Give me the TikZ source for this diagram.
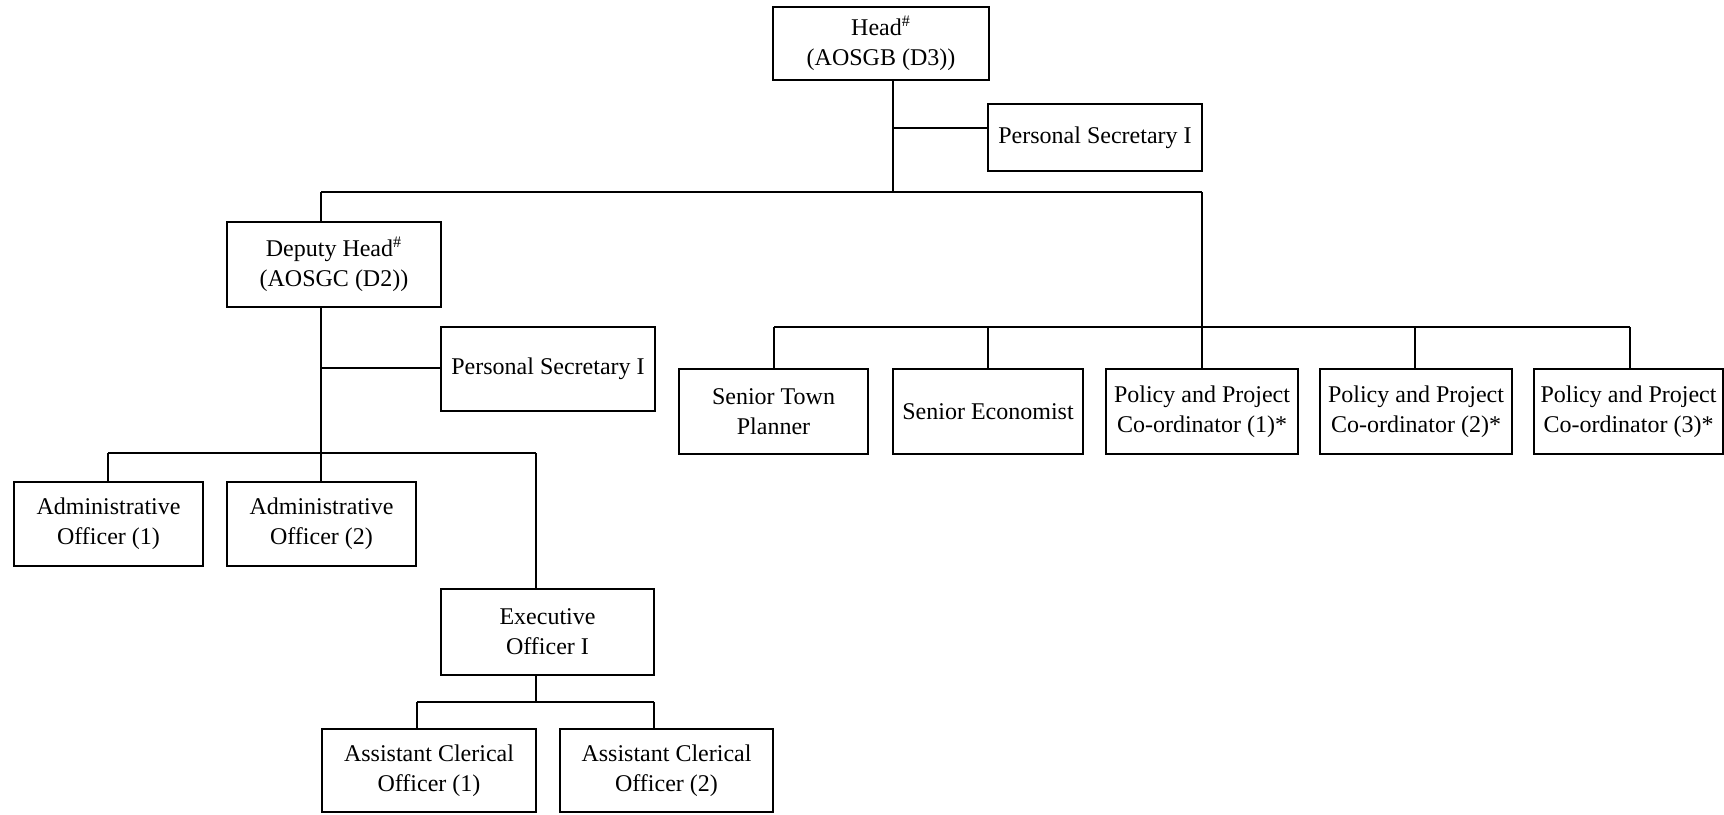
\documentclass[tikz,border=0pt]{standalone}
\usepackage{fontspec}
\setmainfont{Liberation Serif}
\newfontfamily\orgserif{Liberation Serif}
\begin{document}
\begin{tikzpicture}[x={(0.5pt,0)},y={(0,-0.5pt)},
  box/.style={draw, line width=1pt, align=center, inner sep=0pt, font=\orgserif\fontsize{12}{15}\selectfont},
  link/.style={line width=1pt}]
\useasboundingbox (0,0) rectangle (1724,814);
% boxes
\node[box, minimum width=108pt, minimum height=36.5pt] (head) at (881,43.5) {Head\textsuperscript{\#}\\(AOSGB (D3))};
\node[box, minimum width=107pt, minimum height=33.5pt] (ps1) at (1095,137.5) {Personal Secretary I};
\node[box, minimum width=107pt, minimum height=42.5pt] (dep) at (334,264.5) {Deputy Head\textsuperscript{\#}\\(AOSGC (D2))};
\node[box, minimum width=107pt, minimum height=42pt] (ps2) at (548,369) {Personal Secretary I};
\node[box, minimum width=94.5pt, minimum height=42pt] (adm1) at (108.5,524) {Administrative\\Officer (1)};
\node[box, minimum width=94.5pt, minimum height=42pt] (adm2) at (321.5,524) {Administrative\\Officer (2)};
\node[box, minimum width=106.5pt, minimum height=43pt] (exec) at (547.5,632) {Executive\\Officer I};
\node[box, minimum width=107pt, minimum height=41.5pt] (aco1) at (429,770.5) {Assistant Clerical\\Officer (1)};
\node[box, minimum width=106.5pt, minimum height=41.5pt] (aco2) at (666.5,770.5) {Assistant Clerical\\Officer (2)};
\node[box, minimum width=94.5pt, minimum height=42.5pt] (stp) at (773.5,411.5) {Senior Town\\Planner};
\node[box, minimum width=95pt, minimum height=42.5pt] (se) at (988,411.5) {Senior Economist};
\node[box, minimum width=96pt, minimum height=42.5pt] (ppc1) at (1202,411.5) {Policy and Project\\Co-ordinator (1)*};
\node[box, minimum width=96pt, minimum height=42.5pt] (ppc2) at (1416,411.5) {Policy and Project\\Co-ordinator (2)*};
\node[box, minimum width=94.5pt, minimum height=42.5pt] (ppc3) at (1628.5,411.5) {Policy and Project\\Co-ordinator (3)*};
% junction coordinates
\coordinate (hj) at (893,128);
\coordinate (hb) at (893,192);
\coordinate (bl) at (321,192);
\coordinate (br) at (1202,192);
\coordinate (dj) at (321,368);
\coordinate (dbl) at (108,453);
\coordinate (dbm) at (321,453);
\coordinate (dbr) at (536,453);
\coordinate (eb) at (536,702);
\coordinate (ebl) at (417,702);
\coordinate (ebr) at (654,702);
\coordinate (pbl) at (774,327);
\coordinate (pbr) at (1630,327);
\coordinate (p4) at (1415,327);
% connectors
\draw[link] (head.south -| hb) -- (hb);
\draw[link] (hj) -- (hj -| ps1.west);
\draw[link] (bl) -- (br);
\draw[link] (bl) -- (bl |- dep.north);
\draw[link] (br) -- (br |- ppc1.north);
\draw[link] (dep.south -| dbm) -- (dbm |- adm2.north);
\draw[link] (dj) -- (dj -| ps2.west);
\draw[link] (dbl) -- (dbr);
\draw[link] (dbl) -- (dbl |- adm1.north);
\draw[link] (dbr) -- (dbr |- exec.north);
\draw[link] (exec.south -| eb) -- (eb);
\draw[link] (ebl) -- (ebr);
\draw[link] (ebl) -- (ebl |- aco1.north);
\draw[link] (ebr) -- (ebr |- aco2.north);
\draw[link] (pbl) -- (pbr);
\draw[link] (pbl) -- (pbl |- stp.north);
\draw[link] (se.north |- pbl) -- (se.north);
\draw[link] (p4) -- (p4 |- ppc2.north);
\draw[link] (pbr) -- (pbr |- ppc3.north);
\end{tikzpicture}
\end{document}
